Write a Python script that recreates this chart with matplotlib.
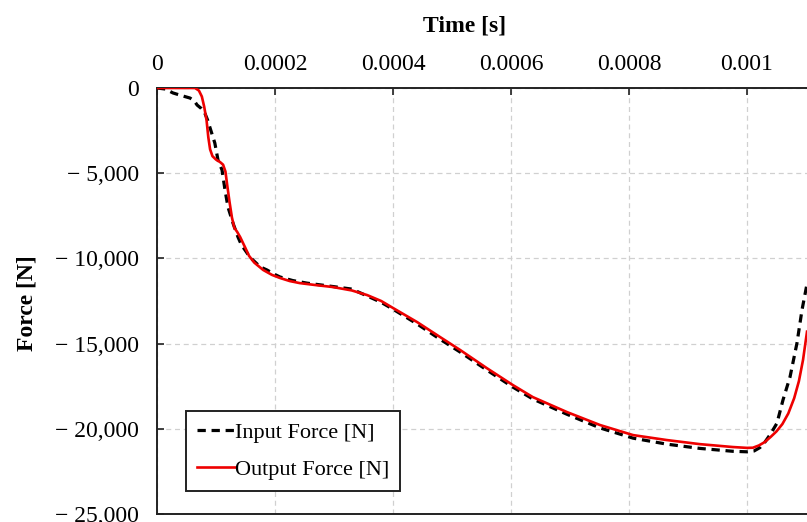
import matplotlib
matplotlib.use("Agg")
import matplotlib.pyplot as plt

plt.rcParams['font.family'] = ['Liberation Serif', 'DejaVu Serif']

# ---- data ----
input_time = [0, 1.4e-5, 2.7e-5, 4.2e-5, 5.6e-5, 6.3e-5, 6.8e-5, 7.5e-5, 8.1e-5, 8.6e-5,
              9.0e-5, 9.8e-5, 1.034e-4, 1.102e-4, 1.153e-4, 1.203e-4, 1.288e-4, 1.373e-4,
              1.43e-4, 1.492e-4, 1.56e-4, 1.627e-4, 1.75e-4, 1.864e-4, 2.0e-4, 2.085e-4,
              2.3e-4, 2.54e-4, 2.98e-4, 3.3e-4, 3.56e-4, 3.8e-4, 4.0e-4, 4.41e-4, 4.8e-4,
              5.14e-4, 5.59e-4, 6.03e-4, 6.37e-4, 6.95e-4, 7.51e-4, 8.07e-4, 8.64e-4,
              9.2e-4, 9.76e-4, 1.0e-3, 1.012e-3, 1.022e-3, 1.03e-3, 1.04e-3, 1.0508e-3,
              1.061e-3, 1.0729e-3, 1.0847e-3, 1.0932e-3, 1.1017e-3]
input_force = [0, -60, -290, -450, -590, -750, -1000, -1200, -1470, -1900,
               -2350, -3230, -4230, -4810, -5990, -6990, -7930, -8750,
               -9200, -9510, -9850, -10100, -10500, -10680, -10950, -11090,
               -11300, -11450, -11650, -11800, -12200, -12580, -12980, -13850, -14750,
               -15500, -16550, -17550, -18250, -19150, -19950, -20550, -20900,
               -21150, -21320, -21350, -21300, -21100, -20800, -20300, -19670,
               -18310, -16960, -14970, -13030, -11500]

output_time = [0, 6.44e-5, 7.1e-5, 7.6e-5, 8.0e-5, 8.4e-5, 8.7e-5, 9.0e-5, 9.4e-5, 1.0e-4,
               1.07e-4, 1.12e-4, 1.16e-4, 1.19e-4, 1.23e-4, 1.27e-4, 1.31e-4, 1.36e-4,
               1.41e-4, 1.49e-4, 1.56e-4, 1.65e-4, 1.8e-4, 1.95e-4, 2.085e-4, 2.25e-4,
               2.42e-4, 2.7e-4, 2.98e-4, 3.3e-4, 3.56e-4, 3.8e-4, 4.0e-4, 4.41e-4, 4.8e-4,
               5.14e-4, 5.59e-4, 6.03e-4, 6.37e-4, 6.95e-4, 7.51e-4, 8.07e-4, 8.64e-4,
               9.2e-4, 9.76e-4, 1.0e-3, 1.01e-3, 1.02e-3, 1.03e-3, 1.04e-3, 1.05e-3,
               1.06e-3, 1.07e-3, 1.08e-3, 1.088e-3, 1.095e-3, 1.1017e-3]
output_force = [0, 0, -150, -500, -1100, -1900, -2900, -3600, -4000, -4200,
                -4350, -4500, -4900, -5700, -6700, -7600, -8200, -8450,
                -8750, -9330, -9850, -10250, -10680, -10970, -11150, -11330,
                -11450, -11570, -11680, -11880, -12150, -12500, -12910, -13740, -14620,
                -15380, -16440, -17430, -18140, -19020, -19780, -20370, -20660,
                -20900, -21070, -21120, -21110, -20980, -20780, -20480, -20150,
                -19720, -19100, -18200, -17200, -15950, -14300]

x_ticks = [0, 0.0002, 0.0004, 0.0006, 0.0008, 0.001]
x_tick_labels = ['0', '0.0002', '0.0004', '0.0006', '0.0008', '0.001']
y_ticks = [0, -5000, -10000, -15000, -20000, -25000]
y_tick_labels = ['0', '\u2212 5,000', '\u2212 10,000', '\u2212 15,000', '\u2212 20,000', '\u2212 25,000']

# ---- figure ----
W, H = 807, 522
fig = plt.figure(figsize=(W / 100, H / 100), dpi=100)
left_px, top_px, bottom_px = 157, 88, 514
ax = fig.add_axes([left_px / W, 1 - bottom_px / H, 1 - left_px / W, (bottom_px - top_px) / H])

ax.plot(input_time, input_force, color='black', lw=2.3, linestyle=(0, (2.6, 1.8)),
        label='Input Force [N]', zorder=3)
ax.plot(output_time, output_force, color='#ee0000', lw=1.9,
        label='Output Force [N]', zorder=4)

ax.set_xlim(0, 1.1017e-3)
ax.set_ylim(-25000, 0)

ax.xaxis.tick_top()
ax.set_xticks(x_ticks)
ax.set_xticklabels(x_tick_labels)
ax.set_yticks(y_ticks)
ax.set_yticklabels(y_tick_labels)
ax.tick_params(axis='x', direction='in', length=5, width=1.2, labelsize=17, pad=9, colors='#222222',
               labelcolor='black')
ax.tick_params(axis='y', direction='in', length=5, width=1.2, labelsize=17, pad=13, colors='#222222',
               labelcolor='black')

ax.grid(True, color='#d0d0d0', linestyle=(0, (4, 3)), linewidth=0.9)
ax.set_axisbelow(True)

for side in ['left', 'top', 'bottom']:
    ax.spines[side].set_color('#222222')
    ax.spines[side].set_linewidth(1.4)
ax.spines['right'].set_visible(False)

fig.text(465 / W, 1 - 26 / H, 'Time [s]', fontsize=17, fontweight='bold', ha='center', va='center')
fig.text(27 / W, 1 - 303 / H, 'Force [N]', fontsize=17, fontweight='bold', ha='center', va='center',
         rotation=90)

leg = ax.legend(loc='lower left', bbox_to_anchor=((186 - left_px) / (W - left_px), (bottom_px - 491) / (bottom_px - top_px)),
                borderaxespad=0, fontsize=16, handlelength=1.7, handletextpad=0.0,
                labelspacing=0.75, fancybox=False, framealpha=1, borderpad=0.5)
leg.get_frame().set_edgecolor('#222222')
leg.get_frame().set_linewidth(1.4)

fig.savefig('out.png', dpi=100)
